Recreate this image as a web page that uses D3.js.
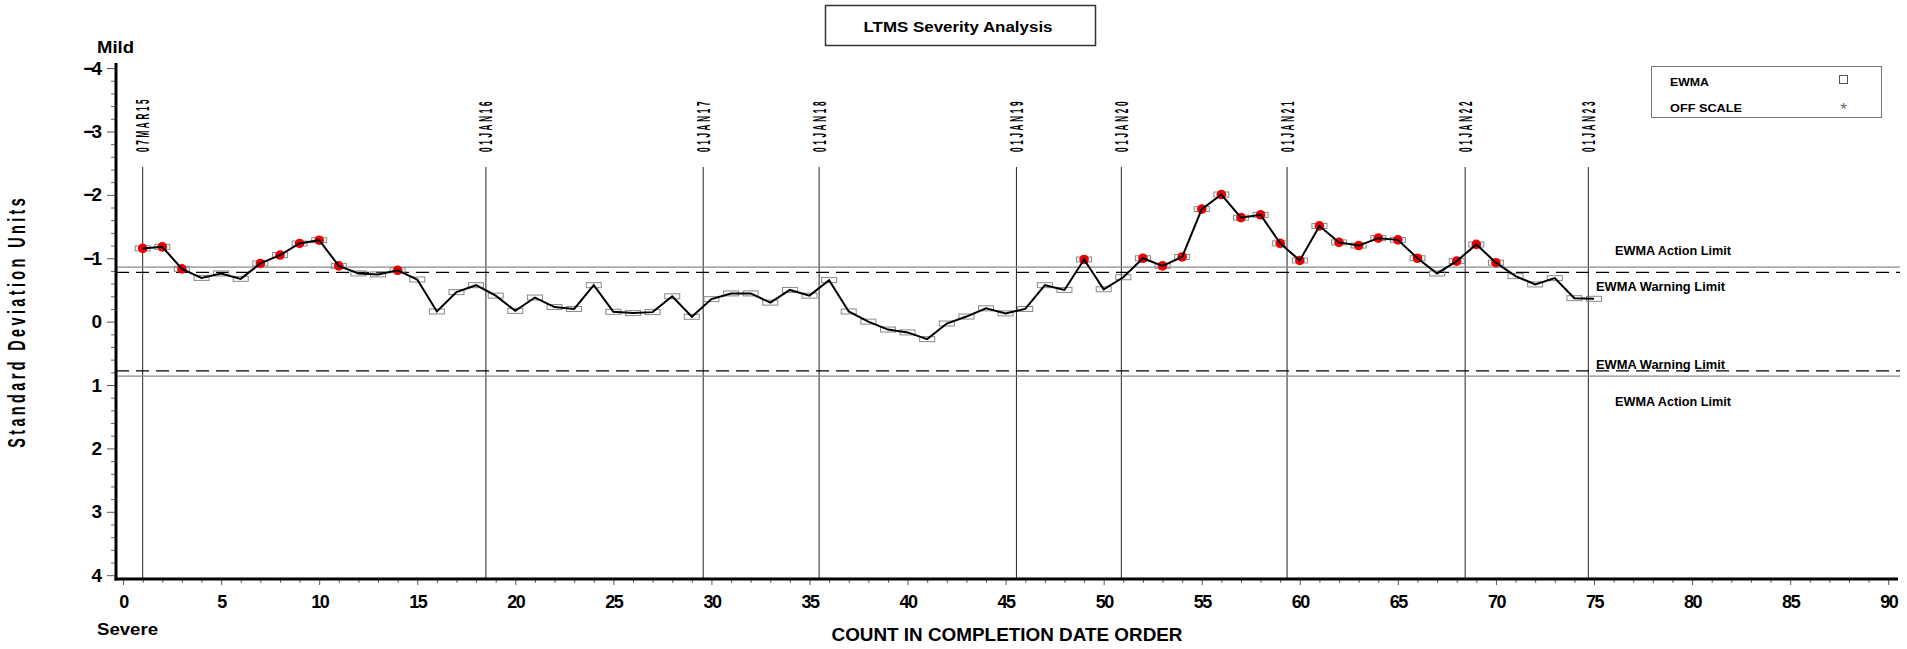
<!DOCTYPE html>
<html><head><meta charset="utf-8">
<script src="https://cdn.jsdelivr.net/npm/d3@7/dist/d3.min.js"></script>
<style>
html,body{margin:0;padding:0;background:#fff;}
svg{display:block;font-family:"Liberation Sans",Arial,Helvetica,sans-serif;}
</style></head><body>
<svg id="chart" width="1907" height="649"></svg>
<script>
// ---------------- DATA ----------------
const titleText = "LTMS Severity Analysis";
const yTitle = "Standard Deviation Units";
const xTitle = "COUNT IN COMPLETION DATE ORDER";
const topLabel = "Mild";
const bottomLabel = "Severe";

// EWMA value for tests 1..75 (negative = mild, plotted upward)
const ewmaValues = [
  -1.155, -1.18, -0.833, -0.69, -0.76, -0.675, -0.918, -1.05, -1.233, -1.285,
  -0.88, -0.76, -0.745, -0.81, -0.665, -0.16, -0.465, -0.575, -0.41, -0.17,
  -0.38, -0.23, -0.20, -0.575, -0.155, -0.135, -0.15, -0.40, -0.077, -0.355,
  -0.445, -0.445, -0.30, -0.50, -0.41, -0.655, -0.16, 0.0, 0.125, 0.17,
  0.276, 0.03, -0.08, -0.21, -0.13, -0.20, -0.575, -0.50, -0.98, -0.51,
  -0.70, -1.00, -0.88, -1.02, -1.775, -2.005, -1.64, -1.685, -1.235, -0.965,
  -1.51, -1.25, -1.20, -1.317, -1.29, -1.00, -0.76, -0.955, -1.218, -0.93,
  -0.718, -0.587, -0.686, -0.37, -0.36
];

const dateLabels = ["07MAR15","01JAN16","01JAN17","01JAN18","01JAN19","01JAN20","01JAN21","01JAN22","01JAN23"];
const dateCounts = [1.0, 18.5, 29.58, 35.49, 45.55, 50.9, 59.35, 68.43, 74.71];

const actionLimit = 0.86;
const warningLimit = 0.776;
const limitLabels = ["EWMA Action Limit","EWMA Warning Limit","EWMA Warning Limit","EWMA Action Limit"];
const limitValues = [-actionLimit, -warningLimit, warningLimit, actionLimit];

const yTickValues = [-4,-3,-2,-1,0,1,2,3,4];
const xTickValues = [0,5,10,15,20,25,30,35,40,45,50,55,60,65,70,75,80,85,90];
const legendLabels = ["EWMA","OFF SCALE"];

// ---------------- SCALES ----------------
const svg = d3.select("#chart");
const x = d3.scaleLinear().domain([-0.36, 90.5]).range([116, 1898]);
const y = d3.scaleLinear().domain([-4.08, 4.06]).range([63, 579]);

// ---------------- TITLE ----------------
svg.append("rect").attr("x",825.5).attr("y",5.5).attr("width",270).attr("height",40)
  .attr("fill","none").attr("stroke","#333").attr("stroke-width",1.5);
svg.append("text").attr("x",958).attr("y",32).attr("text-anchor","middle")
  .attr("font-size",14.5).attr("font-weight","bold")
  .attr("textLength",189).attr("lengthAdjust","spacingAndGlyphs").text(titleText);

// ---------------- LEGEND ----------------
const lg = svg.append("g");
lg.append("rect").attr("x",1651.5).attr("y",66.5).attr("width",230).attr("height",51)
  .attr("fill","none").attr("stroke","#777").attr("stroke-width",1);
lg.selectAll("text.lab").data(legendLabels).join("text").attr("class","lab")
  .attr("x",1670).attr("y",(d,i)=>86+i*26).attr("font-size",11.5).attr("font-weight","bold")
  .attr("textLength",(d,i)=>i===0?39:72).attr("lengthAdjust","spacingAndGlyphs").text(d=>d);
lg.append("rect").attr("x",1839.5).attr("y",75.5).attr("width",8).attr("height",8)
  .attr("fill","none").attr("stroke","#555").attr("stroke-width",1);
lg.append("text").attr("x",1843.5).attr("y",115).attr("text-anchor","middle")
  .attr("font-size",17).attr("fill","#666").text("*");

// ---------------- DATE LINES ----------------
svg.selectAll("line.date").data(dateCounts).join("line").attr("class","date")
  .attr("x1",d=>x(d)).attr("x2",d=>x(d)).attr("y1",167).attr("y2",579)
  .attr("stroke","#222").attr("stroke-width",1);
svg.selectAll("text.date").data(dateLabels).join("text").attr("class","date")
  .attr("transform",(d,i)=>`translate(${x(dateCounts[i])},152) rotate(-90) scale(0.45,1)`)
  .attr("dy","0.36em").attr("font-size",18).attr("font-weight","bold")
  .attr("letter-spacing",6).text(d=>d);

// ---------------- LIMIT LINES ----------------
svg.selectAll("line.limit").data(limitValues).join("line").attr("class","limit")
  .attr("x1",116).attr("x2",1900).attr("y1",d=>y(d)).attr("y2",d=>y(d))
  .attr("stroke",d=>Math.abs(d)===actionLimit?"#8a8a8a":"#000")
  .attr("stroke-width",1.2)
  .attr("stroke-dasharray",d=>Math.abs(d)===actionLimit?null:"13,7");
const limitLabelY = [y(-actionLimit)-12, y(-warningLimit)+19, y(warningLimit)-2, y(actionLimit)+30];
svg.selectAll("text.limit").data(limitLabels).join("text").attr("class","limit")
  .attr("x",(d,i)=>(i===0||i===3)?1615:1596).attr("y",(d,i)=>limitLabelY[i])
  .attr("font-size",12.5).attr("font-weight","bold")
  .attr("textLength",(d,i)=>(i===0||i===3)?116:129).attr("lengthAdjust","spacingAndGlyphs")
  .text(d=>d);

// ---------------- AXES ----------------
const fmt = d => d < 0 ? "\u2212" + Math.abs(d) : String(d);
const yMinor = d3.range(-4, 4.001, 0.2).map(v=>+v.toFixed(1)).filter(v=>!yTickValues.includes(v));
const xMinor = d3.range(0, 91, 1).filter(v=>!xTickValues.includes(v));

const yAx = svg.append("g").attr("transform","translate(116,0)")
  .call(d3.axisLeft(y).tickValues(yTickValues).tickSize(9).tickPadding(8).tickFormat(fmt));
yAx.select(".domain").remove();
yAx.selectAll("text").attr("font-size",19).attr("font-weight","bold").attr("fill","#000")
  .attr("letter-spacing",-3).attr("font-family","Liberation Sans, Arial, sans-serif");
yAx.selectAll("line").attr("stroke","#555");
const yAxMinor = svg.append("g").attr("transform","translate(116,0)")
  .call(d3.axisLeft(y).tickValues(yMinor).tickSize(5).tickFormat(""));
yAxMinor.select(".domain").remove();
yAxMinor.selectAll("line").attr("stroke","#666");

const xAx = svg.append("g").attr("transform","translate(0,579)")
  .call(d3.axisBottom(x).tickValues(xTickValues).tickSize(6).tickPadding(10).tickFormat(d=>String(d)));
xAx.select(".domain").remove();
xAx.selectAll("text").attr("font-size",18).attr("font-weight","bold").attr("fill","#000")
  .attr("letter-spacing",-1.5).attr("font-family","Liberation Sans, Arial, sans-serif");
xAx.selectAll("line").attr("stroke","#555");
const xAxMinor = svg.append("g").attr("transform","translate(0,579)")
  .call(d3.axisBottom(x).tickValues(xMinor).tickSize(4).tickFormat(""));
xAxMinor.select(".domain").remove();
xAxMinor.selectAll("line").attr("stroke","#666");

svg.append("line").attr("x1",116).attr("x2",116).attr("y1",63).attr("y2",580.5)
  .attr("stroke","#000").attr("stroke-width",3);
svg.append("line").attr("x1",114.5).attr("x2",1898).attr("y1",579).attr("y2",579)
  .attr("stroke","#000").attr("stroke-width",3);

// axis titles
svg.append("text").attr("x",97).attr("y",53).attr("font-size",17).attr("font-weight","bold")
  .attr("textLength",37).attr("lengthAdjust","spacingAndGlyphs").text(topLabel);
svg.append("text").attr("x",97).attr("y",635).attr("font-size",17).attr("font-weight","bold")
  .attr("textLength",61).attr("lengthAdjust","spacingAndGlyphs").text(bottomLabel);
svg.append("text").attr("x",1007).attr("y",641).attr("text-anchor","middle")
  .attr("font-size",19).attr("font-weight","bold")
  .attr("textLength",351).attr("lengthAdjust","spacingAndGlyphs").text(xTitle);
svg.append("text").attr("transform","translate(16,323) rotate(-90) scale(0.6,1)")
  .attr("text-anchor","middle").attr("dy","0.36em").attr("font-size",24).attr("font-weight","bold")
  .attr("textLength",416).attr("lengthAdjust","spacing").text(yTitle);

// ---------------- SERIES ----------------
const pts = ewmaValues.map((v,i)=>({n:i+1, v:v}));
const g = svg.append("g");
g.selectAll("rect.pt").data(pts).join("rect").attr("class","pt")
  .attr("x",d=>x(d.n)-7.5).attr("y",d=>y(d.v)-2.5).attr("width",15).attr("height",5)
  .attr("fill","none").attr("stroke","#888").attr("stroke-width",1);
g.selectAll("circle.alarm").data(pts.filter(d=>d.v < -warningLimit)).join("circle").attr("class","alarm")
  .attr("cx",d=>x(d.n)).attr("cy",d=>y(d.v)).attr("r",4.8).attr("fill","#ee0000");
g.append("path").datum(pts)
  .attr("d",d3.line().x(d=>x(d.n)).y(d=>y(d.v)))
  .attr("fill","none").attr("stroke","#000").attr("stroke-width",2).attr("stroke-linejoin","miter");
</script>
</body></html>
